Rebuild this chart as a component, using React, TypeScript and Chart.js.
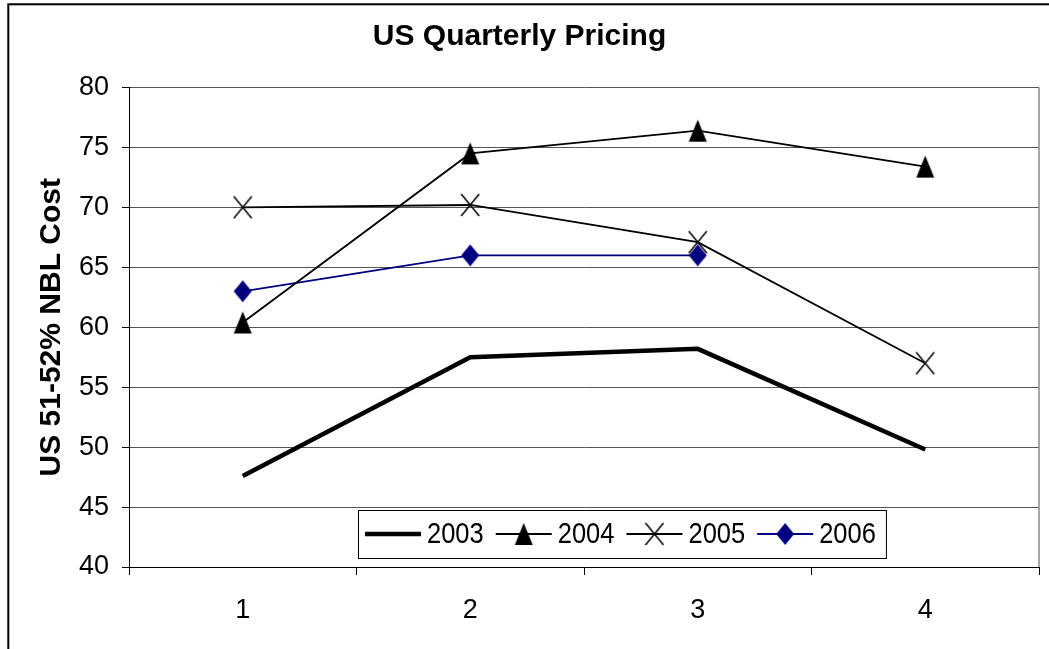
import React, { useEffect, useRef } from 'react';
import { Chart, registerables } from 'chart.js';

Chart.register(...registerables);

const quarters = ['1', '2', '3', '4'];
const seriesNames = ['2003', '2004', '2005', '2006'];
const values2003 = [47.6, 57.5, 58.2, 49.8];
const values2004 = [60.4, 74.5, 76.4, 73.4];
const values2005 = [70.0, 70.2, 67.1, 57.0];
const values2006 = [63.0, 66.0, 66.0, null];
const yMin = 40;
const yMax = 80;
const yStep = 5;

const FONT = 'Arial, "Liberation Sans", sans-serif';

function makeMarker(kind: string, color: string): HTMLCanvasElement {
  const c = document.createElement('canvas');
  c.width = 20;
  c.height = 24;
  const ctx = c.getContext('2d')!;
  const cx = 10, cy = 12, hw = 9, hh = 11;
  ctx.fillStyle = color;
  ctx.strokeStyle = color;
  if (kind === 'triangle') {
    ctx.beginPath();
    ctx.moveTo(cx, cy - hh);
    ctx.lineTo(cx + hw, cy + hh);
    ctx.lineTo(cx - hw, cy + hh);
    ctx.closePath();
    ctx.fill();
  } else if (kind === 'diamond') {
    ctx.beginPath();
    ctx.moveTo(cx, cy - hh);
    ctx.lineTo(cx + hw, cy);
    ctx.lineTo(cx, cy + hh);
    ctx.lineTo(cx - hw, cy);
    ctx.closePath();
    ctx.fill();
  } else if (kind === 'x') {
    ctx.lineWidth = 1.5;
    ctx.beginPath();
    ctx.moveTo(cx - hw, cy - hh);
    ctx.lineTo(cx + hw, cy + hh);
    ctx.moveTo(cx + hw, cy - hh);
    ctx.lineTo(cx - hw, cy + hh);
    ctx.stroke();
  }
  return c;
}

const framePlugin = {
  id: 'frame',
  beforeDraw(chart: any) {
    const ctx = chart.ctx;
    ctx.save();
    ctx.fillStyle = '#fff';
    ctx.fillRect(0, 0, chart.width, chart.height);
    ctx.strokeStyle = '#000';
    ctx.lineWidth = 2;
    ctx.strokeRect(8.3, 4.3, 1200, 800);
    ctx.restore();
  },
  beforeDatasetsDraw(chart: any) {
    const { ctx, chartArea } = chart;
    ctx.save();
    ctx.strokeStyle = '#888';
    ctx.lineWidth = 1.5;
    ctx.beginPath();
    ctx.moveTo(chartArea.right, chartArea.top);
    ctx.lineTo(chartArea.right, chartArea.bottom);
    ctx.stroke();
    ctx.restore();
  },
};

const legendPlugin = {
  id: 'insideLegend',
  afterDatasetsDraw(chart: any) {
    const { ctx, chartArea } = chart;
    const datasets = chart.data.datasets;
    const lineLen = 56;
    const gapText = 6;
    const gapItem = 12;
    const sx = 0.85;
    ctx.save();
    ctx.font = `30px ${FONT}`;
    const widths = datasets.map((d: any) => ctx.measureText(d.label).width * sx);
    let total = 7;
    widths.forEach((w: number, i: number) => {
      total += lineLen + gapText + w + (i < widths.length - 1 ? gapItem : 0);
    });
    total += 10;
    const left = chartArea.left + 229;
    const height = 48;
    const top = chartArea.bottom - 57;
    ctx.fillStyle = '#fff';
    ctx.fillRect(left, top, total, height);
    ctx.strokeStyle = '#000';
    ctx.lineWidth = 1;
    ctx.strokeRect(left + 0.5, top + 0.5, total, height);
    const cy = top + height / 2;
    let x = left + 7;
    datasets.forEach((d: any, i: number) => {
      ctx.strokeStyle = d.borderColor;
      ctx.lineWidth = d.borderWidth;
      ctx.lineCap = 'butt';
      ctx.beginPath();
      ctx.moveTo(x, cy);
      ctx.lineTo(x + lineLen, cy);
      ctx.stroke();
      if (d.pointStyle && typeof d.pointStyle === 'object') {
        const img = d.pointStyle as HTMLCanvasElement;
        ctx.drawImage(img, x + lineLen / 2 - img.width / 2, cy - img.height / 2);
      }
      const tx = x + lineLen + gapText;
      ctx.save();
      ctx.translate(tx, cy);
      ctx.scale(sx, 1);
      ctx.fillStyle = '#000';
      ctx.textAlign = 'left';
      ctx.textBaseline = 'middle';
      ctx.fillText(d.label, 0, 1);
      ctx.restore();
      x = tx + widths[i] + gapItem;
    });
    ctx.restore();
  },
};

export default function App() {
  const ref = useRef<HTMLCanvasElement | null>(null);

  useEffect(() => {
    if (!ref.current) return;
    const tri = makeMarker('triangle', '#000');
    const xm = makeMarker('x', '#000');
    const dia = makeMarker('diamond', '#000080');
    const chart = new Chart(ref.current, {
      type: 'line',
      data: {
        labels: quarters,
        datasets: [
          {
            label: seriesNames[0],
            data: values2003,
            borderColor: '#000',
            borderWidth: 4.5,
            pointRadius: 0,
            pointHoverRadius: 0,
            tension: 0,
          },
          {
            label: seriesNames[1],
            data: values2004,
            borderColor: '#000',
            borderWidth: 1.8,
            pointStyle: tri as any,
            pointRadius: 5,
            tension: 0,
          },
          {
            label: seriesNames[2],
            data: values2005,
            borderColor: '#000',
            borderWidth: 1.8,
            pointStyle: xm as any,
            pointRadius: 5,
            tension: 0,
          },
          {
            label: seriesNames[3],
            data: values2006,
            borderColor: '#000080',
            borderWidth: 1.8,
            pointStyle: dia as any,
            pointRadius: 5,
            tension: 0,
          },
        ],
      },
      options: {
        responsive: false,
        animation: false,
        devicePixelRatio: 1,
        layout: { padding: { left: 0, right: 10, top: 0, bottom: 0 } },
        plugins: {
          legend: { display: false },
          tooltip: { enabled: false },
          title: {
            display: true,
            text: 'US Quarterly Pricing',
            color: '#000',
            font: { family: FONT, size: 30, weight: 'bold' },
            padding: { top: 19, bottom: 32.5 },
          },
        },
        scales: {
          x: {
            type: 'category',
            offset: true,
            grid: {
              display: true,
              drawOnChartArea: false,
              drawTicks: true,
              tickLength: 8,
              color: '#000',
              offset: true,
            },
            border: { display: true, color: '#000', width: 1 },
            ticks: {
              color: '#000',
              font: { family: FONT, size: 27 },
              padding: 19,
              maxRotation: 0,
              autoSkip: false,
            },
            afterFit: (s: any) => {
              s.height = 82;
            },
          },
          y: {
            min: yMin,
            max: yMax,
            ticks: {
              stepSize: yStep,
              color: '#000',
              font: { family: FONT, size: 27 },
              padding: 13,
            },
            grid: {
              color: '#555',
              lineWidth: 1,
              tickLength: 7,
              tickColor: '#000',
              drawTicks: true,
            },
            border: { display: true, color: '#000', width: 1 },
            title: {
              display: true,
              text: 'US 51-52% NBL Cost',
              color: '#000',
              font: { family: FONT, size: 30, weight: 'bold' },
              padding: { top: 34, bottom: 0 },
            },
            afterFit: (s: any) => {
              s.width = 129;
            },
          },
        },
      },
      plugins: [framePlugin, legendPlugin],
    } as any);
    return () => chart.destroy();
  }, []);

  return (
    <canvas
      ref={ref}
      width={1049}
      height={649}
      style={{ position: 'absolute', left: 0, top: 0, width: 1049, height: 649 }}
    />
  );
}
